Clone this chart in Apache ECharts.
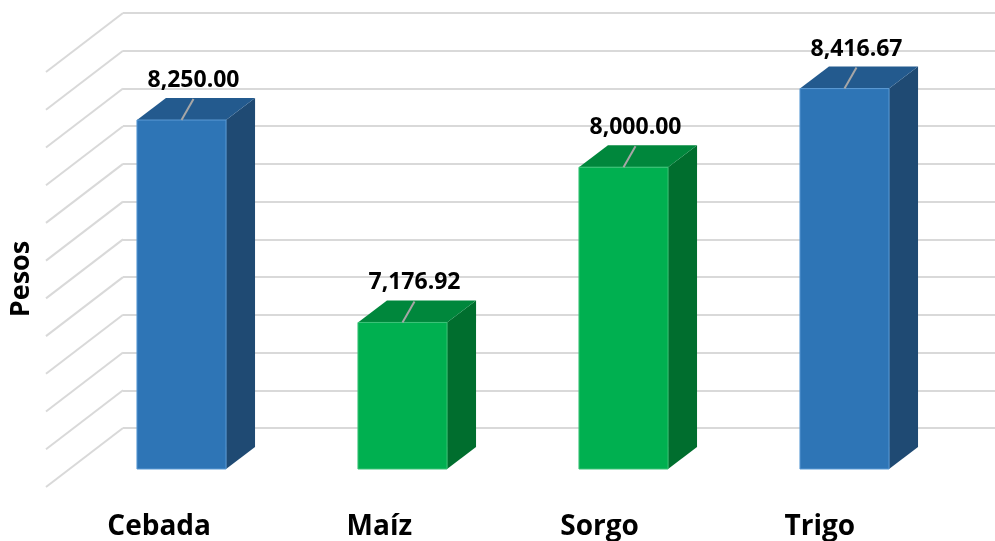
<!DOCTYPE html>
<html>
<head>
<meta charset="utf-8">
<script src="https://cdn.jsdelivr.net/npm/echarts@6/dist/echarts.min.js"></script>
<style>
html,body{margin:0;padding:0;background:#fff;}
#chart{width:995px;height:541px;}
</style>
</head>
<body>
<div id="chart"></div>
<script>
// ---- data ----
const categories = ['Cebada', 'Maíz', 'Sorgo', 'Trigo'];
const values = [8250.00, 7176.92, 8000.00, 8416.67];
const yTicks = [6400, 6600, 6800, 7000, 7200, 7400, 7600, 7800, 8000, 8200, 8400, 8600];
const axisName = 'Pesos';

// ---- styles ----
const palettes = [
  { front: '#2E75B6', top: '#235A8E', side: '#1F4A73', edge: '#5B9BD5' },
  { front: '#00B050', top: '#00873C', side: '#006E2E', edge: '#3CC277' }
];
const barPalette = [0, 1, 1, 0];
const FONT = '"Open Sans", "Liberation Sans", sans-serif';

const yMin = yTicks[0], yMax = yTicks[yTicks.length - 1], yStep = yTicks[1] - yTicks[0];
// visible part of the category range on the back wall (chart is cropped on the right)
const X_VIEW_MAX = -0.5 + 872 / 221;
// oblique depth offsets (pixels) relative to back wall
const FLOOR_DX = -77, FLOOR_DY = 59;
const BACK_DX = -23, BACK_DY = 19;
const FRONT_DX = -52, FRONT_DY = 41;

function fmt(v) {
  return v.toLocaleString('en-US', { minimumFractionDigits: 2, maximumFractionDigits: 2 });
}

function renderBar(params, api) {
  const i = api.value(0), v = api.value(1);
  const base = api.coord([i, yMin]);
  const top = api.coord([i, v]);
  const band = api.size([1, 0])[0];
  const w = band * 0.403;
  const cx = base[0];
  const pal = palettes[barPalette[params.dataIndex]];
  const fL = cx + FRONT_DX - w / 2, fR = cx + FRONT_DX + w / 2;
  const fT = top[1] + FRONT_DY, fB = base[1] + FRONT_DY;
  const bL = cx + BACK_DX - w / 2, bR = cx + BACK_DX + w / 2;
  const bT = top[1] + BACK_DY, bB = base[1] + BACK_DY;
  const fc = cx + FRONT_DX;
  return {
    type: 'group',
    children: [
      { type: 'polygon', shape: { points: [[fR, fT], [bR, bT], [bR, bB], [fR, fB]] },
        style: { fill: pal.side } },
      { type: 'polygon', shape: { points: [[fL, fT], [fR, fT], [bR, bT], [bL, bT]] },
        style: { fill: pal.top } },
      { type: 'rect', shape: { x: fL, y: fT, width: w, height: fB - fT },
        style: { fill: pal.front, stroke: pal.edge, lineWidth: 1 } },
      { type: 'line', shape: { x1: fc, y1: fT, x2: fc + 12, y2: fT - 21 },
        style: { stroke: '#A6A6A6', lineWidth: 2 } },
      { type: 'text', x: fc + 12, y: fT - 28,
        style: { text: fmt(v), font: 'bold 23px ' + FONT, fill: '#000',
                 textAlign: 'center', textVerticalAlign: 'bottom' } }
    ]
  };
}

function renderSideLine(params, api) {
  const p = api.coord([0, api.value(1)]);
  const x0 = params.coordSys.x;
  return {
    type: 'line',
    shape: { x1: x0, y1: p[1], x2: x0 + FLOOR_DX, y2: p[1] + FLOOR_DY },
    style: { stroke: '#D9D9D9', lineWidth: 2 }
  };
}

const chart = echarts.init(document.getElementById('chart'));
chart.setOption({
  animation: false,
  backgroundColor: '#fff',
  grid: [
    { left: 123, top: 13, right: 0, height: 415 },
    { left: 46, top: 72, width: 884, height: 415 }
  ],
  xAxis: [
    { gridIndex: 0, type: 'value', min: -0.5, max: X_VIEW_MAX,
      axisLine: { show: false }, axisTick: { show: false }, axisLabel: { show: false },
      splitLine: { show: false } },
    { gridIndex: 1, type: 'category', data: categories,
      axisLine: { show: false }, axisTick: { show: false },
      axisLabel: { fontFamily: FONT, fontWeight: 'bold', fontSize: 28, color: '#000', margin: 27 } }
  ],
  yAxis: [
    { gridIndex: 0, type: 'value', min: yMin, max: yMax, interval: yStep,
      axisLine: { show: false }, axisTick: { show: false }, axisLabel: { show: false },
      splitLine: { lineStyle: { color: '#D9D9D9', width: 2 } } },
    { gridIndex: 1, type: 'value', min: 0, max: 1,
      axisLine: { show: false }, axisTick: { show: false }, axisLabel: { show: false },
      splitLine: { show: false },
      name: axisName, nameLocation: 'middle', nameGap: 14, nameRotate: 90,
      nameTextStyle: { fontFamily: FONT, fontWeight: 'bold', fontSize: 27, color: '#000' } }
  ],
  series: [
    { type: 'custom', xAxisIndex: 0, yAxisIndex: 0, renderItem: renderSideLine,
      data: yTicks.map(t => [0, t]), z: 1, silent: true },
    { type: 'custom', xAxisIndex: 0, yAxisIndex: 0, renderItem: renderBar,
      data: values.map((v, i) => [i, v]), z: 5 }
  ]
});
</script>
</body>
</html>
